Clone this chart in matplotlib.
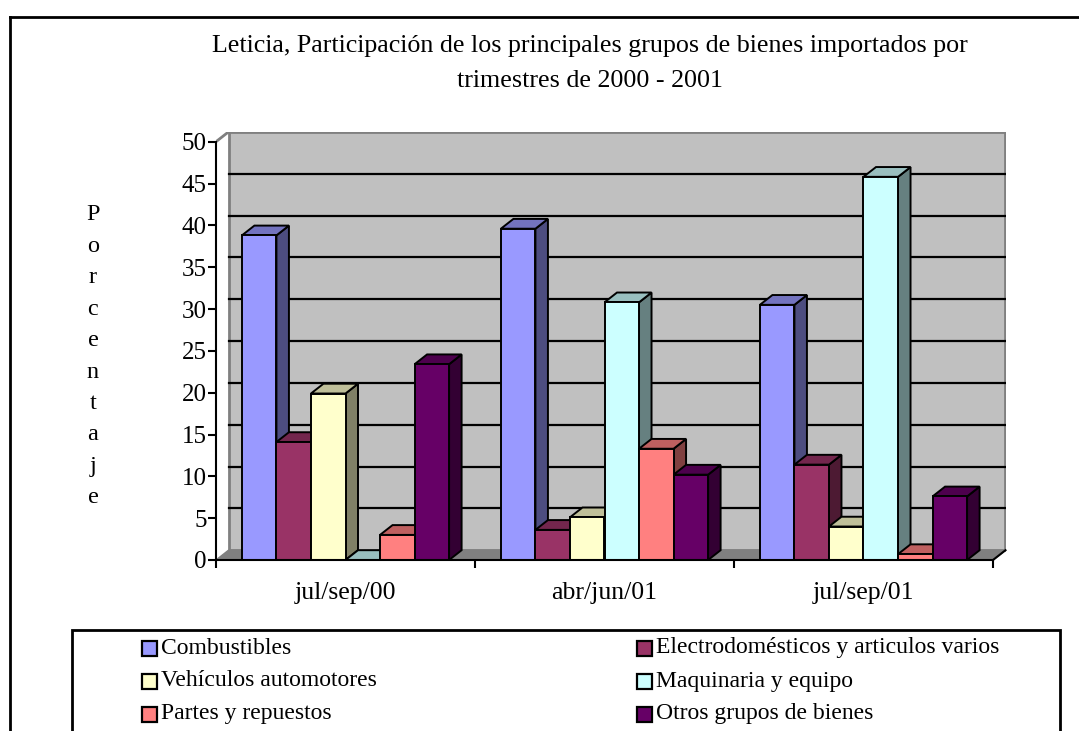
import matplotlib.pyplot as plt
from matplotlib.patches import Polygon, Rectangle
from matplotlib.lines import Line2D
import numpy as np

font = 'Liberation Serif'
plt.rcParams['font.family'] = [font, 'DejaVu Serif']

title_lines = ['Leticia, Participación de los principales grupos de bienes importados por',
               'trimestres de 2000 - 2001']
ylabel = 'Porcentaje'
periods = ['jul/sep/00', 'abr/jun/01', 'jul/sep/01']
series = ['Combustibles', 'Electrodomésticos y articulos varios', 'Vehículos automotores',
          'Maquinaria y equipo', 'Partes y repuestos', 'Otros grupos de bienes']
combustibles = [38.8, 39.6, 30.5]
electro = [14.1, 3.6, 11.4]
vehiculos = [19.9, 5.1, 4.0]
maquinaria = [0.0, 30.8, 45.8]
partes = [3.0, 13.3, 0.7]
otros = [23.4, 10.2, 7.6]
values = [combustibles, electro, vehiculos, maquinaria, partes, otros]
colors = ['#9999FF', '#993366', '#FFFFCC', '#CCFFFF', '#FF8080', '#660066']
yticks = list(range(0, 55, 5))


def shade(c, f):
    c = np.array(plt.matplotlib.colors.to_rgb(c))
    return tuple(c * f)


W, H = 1079, 731
fig = plt.figure(figsize=(W / 100, H / 100), dpi=100)

# axes placed in pixel terms: front axis x 216..993, y 560 (0) .. 142 (50)
ppu_x = 259.0
ppu_y = 418.3 / 50
left_px, right_px, top_px, bot_px = 216, 1006, 132, 560
ax = fig.add_axes([left_px / W, 1 - bot_px / H, (right_px - left_px) / W, (bot_px - top_px) / H])
ax.set_xlim(-0.5, -0.5 + (right_px - left_px) / ppu_x)
ax.set_ylim(0, (bot_px - top_px) / ppu_y)
ax.patch.set_visible(False)

dx = 12.5 / ppu_x
dy = 9.8 / ppu_y
x0, x1 = -0.5, len(periods) - 0.5

# back wall, side edge, floor
ax.add_patch(Polygon([(x0 + dx, dy), (x1 + dx, dy), (x1 + dx, 50 + dy), (x0 + dx, 50 + dy)],
                     closed=True, fc='#C0C0C0', ec='#808080', lw=2, zorder=0))
ax.plot([x0, x0 + dx], [50, 50 + dy], color='#808080', lw=2, zorder=0.5)
ax.add_patch(Polygon([(x0, 0), (x1, 0), (x1 + dx, dy), (x0 + dx, dy)],
                     closed=True, fc='#808080', ec='#808080', lw=1, zorder=0.6))
for v in yticks[1:-1]:
    ax.plot([x0 + dx, x1 + dx], [v + dy, v + dy], color='black', lw=1.6, zorder=0.7)

# 3D-style columns
bw = 1 / 7.5
z = 2
for k, (vals, c) in enumerate(zip(values, colors)):
    xs = np.arange(len(periods)) - 0.5 + 0.75 * bw + k * bw
    for i, (xl, v) in enumerate(zip(xs, vals)):
        zz = z + i * 10 + k
        ax.bar(xl, v, width=bw, align='edge', color=c, edgecolor='black', linewidth=1.4, zorder=zz + 0.2)
        ax.add_patch(Polygon([(xl + bw, 0), (xl + bw + dx, dy), (xl + bw + dx, v + dy), (xl + bw, v)],
                             closed=True, fc=shade(c, 0.5), ec='black', lw=1.4, zorder=zz))
        ax.add_patch(Polygon([(xl, v), (xl + dx, v + dy), (xl + bw + dx, v + dy), (xl + bw, v)],
                             closed=True, fc=shade(c, 0.75), ec='black', lw=1.4, zorder=zz + 0.1))

# axes
for s in ['top', 'right']:
    ax.spines[s].set_visible(False)
ax.spines['left'].set_bounds(0, 50)
ax.spines['bottom'].set_bounds(x0, x1)
ax.spines['left'].set_linewidth(1.5)
ax.spines['bottom'].set_linewidth(1.5)
ax.spines['left'].set_zorder(100)
ax.spines['bottom'].set_zorder(100)
ax.set_yticks(yticks)
ax.set_yticklabels([str(t) for t in yticks], fontsize=18, fontfamily=font)
ax.tick_params(axis='y', direction='out', length=6, width=1.5, pad=0.5)
ax.set_xticks(np.arange(len(periods) + 1) - 0.5)
ax.set_xticklabels([])
ax.tick_params(axis='x', which='major', direction='out', length=6, width=1.5)
ax.set_xticks(np.arange(len(periods)), minor=True)
ax.set_xticklabels(periods, minor=True, fontsize=18.5, fontfamily=font)
ax.tick_params(axis='x', which='minor', length=0, pad=16)
ax.plot([x1, x1 + dx], [0, dy], color='black', lw=1.5, zorder=100, clip_on=False)

# title and stacked y label
fig.text(590 / W, 1 - 46 / H, title_lines[0], ha='center', va='center', fontsize=18.7)
fig.text(590 / W, 1 - 81 / H, title_lines[1], ha='center', va='center', fontsize=18.7)
for j, ch in enumerate(ylabel):
    fig.text(93 / W, 1 - (215 + j * 31.4) / H, ch, ha='center', va='center', fontsize=17.5)

# outer frame
fig.add_artist(Line2D([10 / W, 10 / W], [0, 1 - 17 / H], color='black', lw=2))
fig.add_artist(Line2D([10 / W, 1], [1 - 17 / H, 1 - 17 / H], color='black', lw=2))

# legend box
fig.add_artist(Rectangle((72 / W, -0.05), (1060 - 72) / W, (1 - 630 / H) + 0.05,
                         fill=False, ec='black', lw=2, transform=fig.transFigure))
col_x = [142, 637]
row_y = [648, 681, 714]
for k, (name, c) in enumerate(zip(series, colors)):
    mx = col_x[k % 2]
    my = row_y[k // 2]
    fig.add_artist(Rectangle((mx / W, 1 - (my + 7.5) / H), 15 / W, 15 / H, fc=c, ec='black', lw=1.6,
                             transform=fig.transFigure))
    fig.text((mx + 19) / W, 1 - my / H, name, ha='left', va='center', fontsize=17)

fig.savefig('out.png', dpi=100)
